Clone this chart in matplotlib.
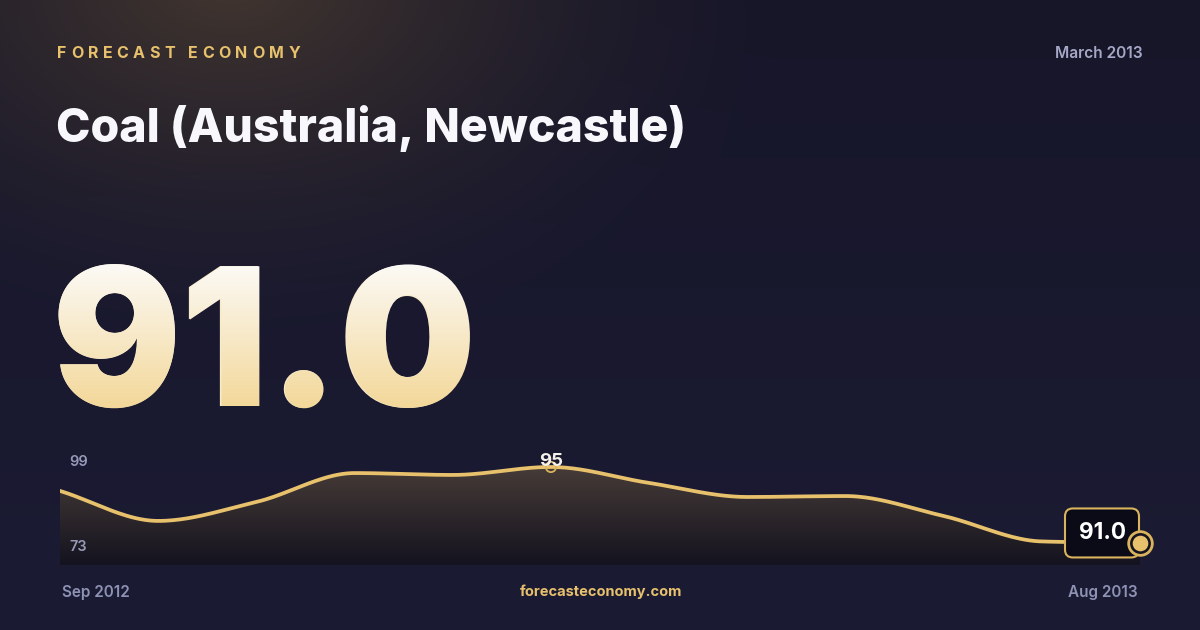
import numpy as np
import matplotlib
matplotlib.use("Agg")
import matplotlib.pyplot as plt
from matplotlib.textpath import TextPath
from matplotlib.font_manager import FontProperties
from matplotlib.patches import PathPatch, Polygon
from matplotlib.transforms import Affine2D

# ---------------------------------------------------------------------------
# DATA (monthly coal price, USD/t)
months = ["Sep 2012", "Oct 2012", "Nov 2012", "Dec 2012", "Jan 2013", "Feb 2013",
          "Mar 2013", "Apr 2013", "May 2013", "Jun 2013", "Jul 2013", "Aug 2013"]
prices = [93.74, 92.16, 93.16, 94.68, 94.58, 95.0, 94.16, 93.42, 93.47, 92.42, 91.08, 91.0]
latest_value = "91.0"
peak_label = "95"
axis_hi_label = "99"
axis_lo_label = "73"
brand = "FORECAST ECONOMY"
title = "Coal (Australia, Newcastle)"
period = "March 2013"
site = "forecasteconomy.com"
# ---------------------------------------------------------------------------

W, H = 1200, 630
GOLD = "#e8c16d"
GREY = "#9799b8"
FONT = "Inter"


def px(p):
    # pixel size -> points at 100 dpi
    return p * 0.72


def monotone_curve(x, y, n=40):
    # Fritsch-Carlson monotone cubic, only used to draw a smooth path
    x = np.asarray(x, float)
    y = np.asarray(y, float)
    h = np.diff(x)
    d = np.diff(y) / h
    m = np.zeros_like(y)
    m[0], m[-1] = d[0], d[-1]
    for i in range(1, len(y) - 1):
        if d[i - 1] * d[i] <= 0:
            m[i] = 0
        else:
            w1 = 2 * h[i] + h[i - 1]
            w2 = h[i] + 2 * h[i - 1]
            m[i] = (w1 + w2) / (w1 / d[i - 1] + w2 / d[i])
    xs, ys = [], []
    for i in range(len(y) - 1):
        t = np.linspace(0, 1, n, endpoint=(i == len(y) - 2))
        h00 = 2 * t**3 - 3 * t**2 + 1
        h10 = t**3 - 2 * t**2 + t
        h01 = -2 * t**3 + 3 * t**2
        h11 = t**3 - t**2
        xs.append(x[i] + t * h[i])
        ys.append(h00 * y[i] + h10 * h[i] * m[i] + h01 * y[i + 1] + h11 * h[i] * m[i + 1])
    return np.concatenate(xs), np.concatenate(ys)


fig = plt.figure(figsize=(12, 6.3), dpi=100)
renderer = fig.canvas.get_renderer()

# Background layer in pixel coordinates
bg = fig.add_axes([0, 0, 1, 1])
bg.set_xlim(0, W)
bg.set_ylim(H, 0)
bg.axis("off")

yy, xx = np.mgrid[0:H, 0:W]
base_top = np.array([23, 22, 41], float)
base_bot = np.array([27, 27, 52], float)
tv = (yy / H)[..., None]
img = base_top * (1 - tv) + base_bot * tv
dist = np.hypot((xx - 230) / 560, (yy + 20) / 370)
glow = (np.clip(1 - dist, 0, 1) ** 1.5)[..., None]
img = img * (1 - glow) + np.array([66, 54, 47]) * glow
bg.imshow(img / 255, extent=(0, W, H, 0), aspect="auto", zorder=0)

# Brand line with letter spacing
brand_kw = dict(fontfamily=FONT, fontweight="bold", fontsize=px(16), color=GOLD, va="center", ha="left", zorder=3)
widths = []
for ch in brand:
    tmp = bg.text(0, 0, ch, **brand_kw)
    widths.append(tmp.get_window_extent(renderer).width)
    tmp.remove()
gap = (243 - sum(widths)) / (len(brand) - 1)
xpos = 57
for ch, w in zip(brand, widths):
    bg.text(xpos, 53, ch, **brand_kw)
    xpos += w + gap

bg.text(1143, 54, period, fontfamily=FONT, fontweight="semibold", fontsize=px(15.5),
        color="#a4a7c6", ha="right", va="center", zorder=3)

# Title, fitted to its width in the card
t_title = bg.text(56, 142, title, fontfamily=FONT, fontweight="heavy", fontsize=px(48),
                  color="#f8f8fc", ha="left", va="baseline", zorder=3)
tw = t_title.get_window_extent(renderer).width
t_title.set_fontsize(px(48) * 630 / tw)

# Big latest value with white-to-gold gradient
big_px = 192
big_x, big_base = 52, 406
bg.text(big_x, big_base, latest_value, fontfamily=FONT, fontweight="black", fontsize=px(big_px),
        color="#f8ebcb", ha="left", va="baseline", zorder=3)
tp = TextPath((0, 0), latest_value, size=big_px, prop=FontProperties(family=FONT, weight="black"))
tp_trans = Affine2D().scale(1, -1).translate(big_x, big_base) + bg.transData
clip = PathPatch(tp, transform=tp_trans, fc="none", ec="none")
ext = tp.get_extents()
g = np.linspace(0, 1, 256)[:, None, None]
grad = np.array([252, 251, 248]) * (1 - g) + np.array([243, 215, 152]) * g
im = bg.imshow(grad / 255, extent=(big_x + ext.x0 - 2, big_x + ext.x1 + 2, big_base - ext.y0 + 2, big_base - ext.y1 - 2),
               aspect="auto", zorder=4)
im.set_clip_path(clip)

# Footer
foot_kw = dict(fontfamily=FONT, fontweight="semibold", fontsize=px(15.3), va="center", zorder=3)
bg.text(62, 592, months[0], color="#8e92b3", ha="left", **foot_kw)
bg.text(1138, 592, months[-1], color="#8e92b3", ha="right", **foot_kw)
bg.text(601, 592, site, color=GOLD, ha="center", **dict(foot_kw, fontweight="bold", fontsize=px(14.6)))

# Sparkline chart
ylo, yhi = 89.84, 95.63
ax = fig.add_axes([60 / W, (H - 565) / H, 1080 / W, 110 / H])
ax.set_xlim(0, len(prices) - 1)
ax.set_ylim(ylo, yhi)
ax.axis("off")
ax.patch.set_alpha(0)

xi = np.arange(len(prices))
xs, ys = monotone_curve(xi, prices)

verts = np.vstack([np.column_stack([xs, ys]), [[xs[-1], ylo], [xs[0], ylo]]])
area = Polygon(verts, closed=True, fc="none", ec="none")
ax.add_patch(area)
g2 = np.linspace(0, 1, 256)[:, None, None]
fill_rgb = np.array([76, 64, 58]) * (1 - g2) + np.array([20, 19, 31]) * g2
fim = ax.imshow(fill_rgb / 255, extent=(0, len(prices) - 1, ylo, yhi), aspect="auto", zorder=1)
fim.set_clip_path(area)

ax.plot(xs, ys, color=GOLD, lw=2.7, solid_capstyle="round", zorder=3)

# Axis range labels (drawn on top of the area fill)
lab_kw = dict(fontfamily=FONT, fontweight="semibold", fontsize=px(14.5), color=GREY,
              ha="left", va="center", zorder=6, transform=bg.transData, clip_on=False)
ax.text(69, 461.5, axis_hi_label, **lab_kw)
ax.text(69, 547, axis_lo_label, **lab_kw)

# Peak marker and label
ipk = int(np.argmax(prices))
ax.scatter([xi[ipk]], [prices[ipk]], s=55, facecolors="none", edgecolors="#d9b35e", linewidths=1.3, zorder=5)
ax.annotate(peak_label, (xi[ipk], prices[ipk]), xytext=(0, px(5)), textcoords="offset points",
            ha="center", va="center", fontfamily=FONT, fontweight="bold", fontsize=px(18.5),
            color="#f4f1ea", zorder=6)

# Latest value badge and marker
ax.annotate(latest_value, (xi[-1], prices[-1]), xytext=(px(-38), px(10)), textcoords="offset points",
            ha="center", va="center", fontfamily=FONT, fontweight="bold", fontsize=px(22.5),
            color="#ffffff", zorder=6, annotation_clip=False,
            bbox=dict(boxstyle="round,pad=0.6,rounding_size=0.35", fc="#0b0b17", ec="#d9b35e", lw=1.5))
ax.scatter([xi[-1]], [prices[-1]], s=290, facecolors="#14131f", edgecolors="#d9b35e", linewidths=2,
           zorder=7, clip_on=False)
ax.scatter([xi[-1]], [prices[-1]], s=105, color=GOLD, zorder=8, clip_on=False)

fig.savefig("out.png", dpi=100)
